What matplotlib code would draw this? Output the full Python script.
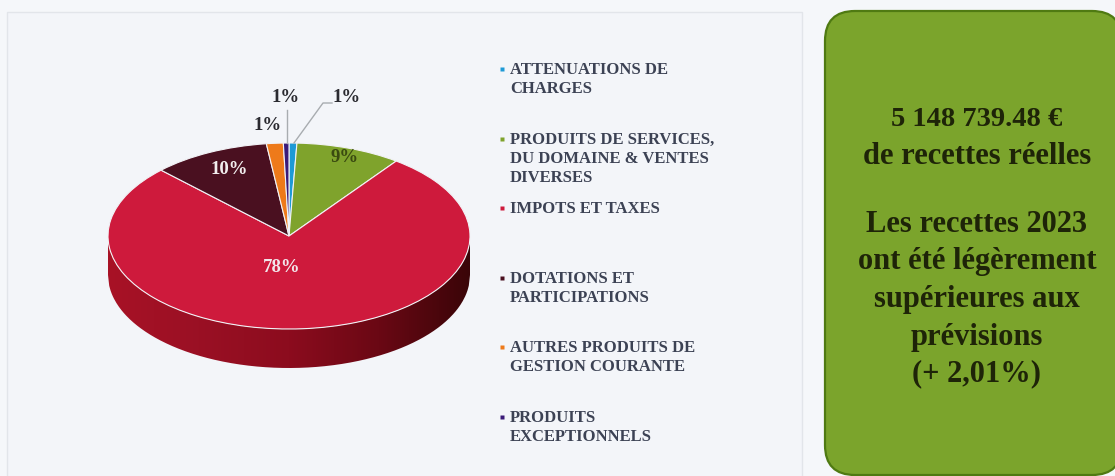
import numpy as np
import matplotlib
matplotlib.use("Agg")
import matplotlib.pyplot as plt
from matplotlib.patches import FancyBboxPatch, Rectangle, PathPatch
from matplotlib.path import Path
from matplotlib.colors import LinearSegmentedColormap

categories = ["ATTENUATIONS DE\nCHARGES",
              "PRODUITS DE SERVICES,\nDU DOMAINE & VENTES\nDIVERSES",
              "IMPOTS ET TAXES",
              "DOTATIONS ET\nPARTICIPATIONS",
              "AUTRES PRODUITS DE\nGESTION COURANTE",
              "PRODUITS\nEXCEPTIONNELS"]
shares = [0.7, 9.4, 77.5, 10.5, 1.5, 0.5]
share_labels = ["1%", "9%", "78%", "10%", "1%", "1%"]
colors = ["#1E9AD6", "#7FA32C", "#CE1A3C", "#4A1020", "#EE7A1A", "#3A1A78"]
box_lines = ["5 148 739.48 €", "de recettes réelles", "",
             "Les recettes 2023", "ont été légèrement", "supérieures aux",
             "prévisions", "(+ 2,01%)"]

W, H = 1115, 476
plt.rcParams["font.family"] = ["Liberation Serif", "DejaVu Serif"]
fig = plt.figure(figsize=(W / 100, H / 100), dpi=100, facecolor="#F5F7FA")

# Pixel-space layer for panel, box and text
bg = fig.add_axes([0, 0, 1, 1], zorder=0)
bg.set_xlim(0, W); bg.set_ylim(H, 0); bg.axis("off")
bg.add_patch(Rectangle((7, 12), 795, 470, fc="#F3F5F9", ec="#E2E5EA", lw=1))
bg.add_patch(FancyBboxPatch((825, 11), 297, 464,
                            boxstyle="round,pad=0,rounding_size=30",
                            fc="#7BA42C", ec="#4F7A12", lw=1.6))

# Pie: ellipse centre (289, 236), rx 181, ry 93, in pixels
rx, ry, cx, cy, depth_px = 181, 93, 289, 236, 39
ax = fig.add_axes([(cx - rx) / W, 1 - (cy + ry) / H - 0.2, 2 * rx / W, 2 * ry / H + 0.2], zorder=1)
ylow = -1 - 0.2 * H / ry
ax.patch.set_alpha(0)

# Extruded side
depth = depth_px / ry
x = np.linspace(-1, 1, 300)
lower = -np.sqrt(1 - x**2)
verts = np.r_[np.c_[x, lower], np.c_[x[::-1], (lower - depth)[::-1]]]
side_cmap = LinearSegmentedColormap.from_list(
    "side", ["#A81226", "#9A1024", "#8C0C1E", "#6A0814", "#3A0508"])
img = ax.imshow(np.linspace(0, 1, 256)[None, :], cmap=side_cmap, aspect="auto",
                extent=(-1, 1, -1 - depth, 0), zorder=1)
img.set_clip_path(PathPatch(Path(verts), transform=ax.transData))

wedges, _ = ax.pie(shares, colors=colors, startangle=90, counterclock=False,
                   radius=1, center=(0, 0), frame=False,
                   wedgeprops=dict(ec="#F2F2F6", lw=0.8, zorder=2))
ax.set_aspect("auto")
ax.set_xlim(-1, 1); ax.set_ylim(ylow, 1)
ax.axis("off")

# Data labels
fg = fig.add_axes([0, 0, 1, 1], zorder=2)
fg.set_xlim(0, W); fg.set_ylim(H, 0); fg.axis("off")
label_pos = [(347, 97), (345, 158), (282, 267), (229, 170), (268, 126), (286, 97)]
label_col = ["#2A2A30", "#3A4A10", "#F2E6EA", "#F2EEEE", "#2A2A30", "#2A2A30"]
for s, p, c in zip(share_labels, label_pos, label_col):
    fg.text(p[0], p[1], s, ha="center", va="center", fontsize=13.5,
            fontweight="bold", color=c)
fg.plot([287, 287], [143, 110], color="#A8ACB0", lw=1)
fg.plot([294, 323, 332], [143, 103, 103], color="#A8ACB0", lw=1)

# Legend
legend_y = [68, 138, 207, 277, 346, 416]
for cat, col, y in zip(categories, colors, legend_y):
    fg.plot([502], [y + 1], marker="s", ms=3.2, color=col, mec="none")
    fg.text(510, y - 6, cat, ha="left", va="top", fontsize=12, fontweight="bold",
            color="#3C4254", linespacing=1.23)

# Text in green box
box_y = [119, 157, 0, 225, 262, 300, 337, 374]
box_sizes = [20.5, 22, 0, 22, 22, 22, 22, 22]
for line, y, fs in zip(box_lines, box_y, box_sizes):
    if line:
        fg.text(977, y, line, ha="center", va="center", fontsize=fs,
                fontweight="bold", color="#1E2408")

fig.savefig("out.png", dpi=100, facecolor=fig.get_facecolor())
